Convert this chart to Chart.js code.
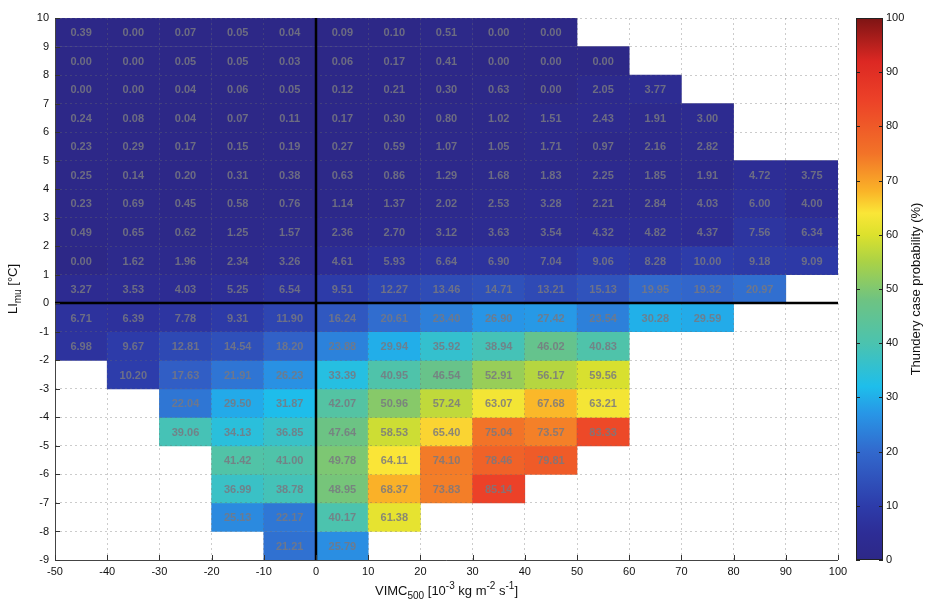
<!DOCTYPE html>
<html>
<head>
<meta charset="utf-8">
<script src="https://cdn.jsdelivr.net/npm/chart.js@4.4.1/dist/chart.umd.min.js"></script>
<style>
	html, body { margin: 0; padding: 0; background: #fff; }
	#wrap { width: 931px; height: 603px; }
</style>
</head>
<body>
<div id="wrap"><canvas id="myChart"></canvas></div>
<script>
	//VIMC500 bin lower edges (columns)
	var vimcBins = [-50, -40, -30, -20, -10, 0, 10, 20, 30, 40, 50, 60, 70, 80, 90];
	var vimcStep = 10;
	//LImu bin lower edges (rows, top to bottom)
	var liBins = [9, 8, 7, 6, 5, 4, 3, 2, 1, 0, -1, -2, -3, -4, -5, -6, -7, -8, -9];
	//colorbar ticks
	var cbTicks = [0, 10, 20, 30, 40, 50, 60, 70, 80, 90, 100];

	//thundery case probability (%) per row
	var li9  = [0.39, 0.00, 0.07, 0.05, 0.04, 0.09, 0.10, 0.51, 0.00, 0.00, null, null, null, null, null];
	var li8  = [0.00, 0.00, 0.05, 0.05, 0.03, 0.06, 0.17, 0.41, 0.00, 0.00, 0.00, null, null, null, null];
	var li7  = [0.00, 0.00, 0.04, 0.06, 0.05, 0.12, 0.21, 0.30, 0.63, 0.00, 2.05, 3.77, null, null, null];
	var li6  = [0.24, 0.08, 0.04, 0.07, 0.11, 0.17, 0.30, 0.80, 1.02, 1.51, 2.43, 1.91, 3.00, null, null];
	var li5  = [0.23, 0.29, 0.17, 0.15, 0.19, 0.27, 0.59, 1.07, 1.05, 1.71, 0.97, 2.16, 2.82, null, null];
	var li4  = [0.25, 0.14, 0.20, 0.31, 0.38, 0.63, 0.86, 1.29, 1.68, 1.83, 2.25, 1.85, 1.91, 4.72, 3.75];
	var li3  = [0.23, 0.69, 0.45, 0.58, 0.76, 1.14, 1.37, 2.02, 2.53, 3.28, 2.21, 2.84, 4.03, 6.00, 4.00];
	var li2  = [0.49, 0.65, 0.62, 1.25, 1.57, 2.36, 2.70, 3.12, 3.63, 3.54, 4.32, 4.82, 4.37, 7.56, 6.34];
	var li1  = [0.00, 1.62, 1.96, 2.34, 3.26, 4.61, 5.93, 6.64, 6.90, 7.04, 9.06, 8.28, 10.00, 9.18, 9.09];
	var li0  = [3.27, 3.53, 4.03, 5.25, 6.54, 9.51, 12.27, 13.46, 14.71, 13.21, 15.13, 19.95, 19.32, 20.97, null];
	var liM1 = [6.71, 6.39, 7.78, 9.31, 11.90, 16.24, 20.61, 23.40, 26.90, 27.42, 23.54, 30.28, 29.59, null, null];
	var liM2 = [6.98, 9.67, 12.81, 14.54, 18.20, 23.88, 29.94, 35.92, 38.94, 46.02, 40.83, null, null, null, null];
	var liM3 = [null, 10.20, 17.63, 21.91, 26.23, 33.39, 40.95, 46.54, 52.91, 56.17, 59.56, null, null, null, null];
	var liM4 = [null, null, 22.04, 29.50, 31.87, 42.07, 50.96, 57.24, 63.07, 67.68, 63.21, null, null, null, null];
	var liM5 = [null, null, 39.06, 34.13, 36.85, 47.64, 58.53, 65.40, 75.04, 73.57, 83.33, null, null, null, null];
	var liM6 = [null, null, null, 41.42, 41.00, 49.78, 64.11, 74.10, 78.46, 79.81, null, null, null, null, null];
	var liM7 = [null, null, null, 36.99, 38.78, 48.95, 68.37, 73.83, 85.14, null, null, null, null, null, null];
	var liM8 = [null, null, null, 25.13, 22.17, 40.17, 61.38, null, null, null, null, null, null, null, null];
	var liM9 = [null, null, null, null, 21.21, 25.79, null, null, null, null, null, null, null, null, null];

	var liRows = [li9, li8, li7, li6, li5, li4, li3, li2, li1, li0, liM1, liM2, liM3, liM4, liM5, liM6, liM7, liM8, liM9];

	//colormap stops (value, r, g, b)
	var cmap = [
		[0, 45, 40, 135], [5, 45, 45, 150], [10, 45, 60, 170], [20, 50, 105, 205],
		[27, 40, 150, 230], [32, 30, 190, 235], [40, 75, 195, 175], [48, 110, 195, 130],
		[55, 170, 210, 70], [60, 220, 225, 45], [64, 250, 230, 55], [68, 250, 180, 40],
		[75, 242, 115, 40], [85, 236, 65, 40], [92, 220, 40, 35], [100, 125, 20, 20]
	];

	function colorFor(v) {
		for (var i = 1; i < cmap.length; i++) {
			if (v <= cmap[i][0]) {
				var a = cmap[i - 1], b = cmap[i];
				var t = (v - a[0]) / (b[0] - a[0]);
				return 'rgb(' + Math.round(a[1] + (b[1] - a[1]) * t) + ',' +
					Math.round(a[2] + (b[2] - a[2]) * t) + ',' +
					Math.round(a[3] + (b[3] - a[3]) * t) + ')';
			}
		}
		var l = cmap[cmap.length - 1];
		return 'rgb(' + l[1] + ',' + l[2] + ',' + l[3] + ')';
	}

	//one bar dataset per LI row, floating bars across VIMC bins
	var datasets = [];
	for (var r = 0; r < liBins.length; r++) {
		var pts = [];
		var cols = [];
		for (var c = 0; c < vimcBins.length; c++) {
			var v = liRows[r][c];
			if (v === null) continue;
			pts.push({ x: [vimcBins[c], vimcBins[c] + vimcStep], y: liBins[r] + 0.5, v: v });
			cols.push(colorFor(v));
		}
		datasets.push({
			data: pts,
			backgroundColor: cols,
			borderWidth: 0,
			borderSkipped: false,
			grouped: false,
			barPercentage: 1,
			categoryPercentage: 1
		});
	}

	//draw text with sub/superscripts, centred at (cx, cy)
	function richText(ctx, parts, cx, cy, size) {
		var small = Math.round(size * 0.75);
		var w = 0;
		parts.forEach(function(p) {
			ctx.font = (p[1] === 'n' ? size : small) + 'px "Liberation Sans", Arial, sans-serif';
			p.w = ctx.measureText(p[0]).width;
			w += p.w;
		});
		var x = cx - w / 2;
		ctx.textAlign = 'left';
		ctx.textBaseline = 'middle';
		parts.forEach(function(p) {
			ctx.font = (p[1] === 'n' ? size : small) + 'px "Liberation Sans", Arial, sans-serif';
			var dy = p[1] === 'sub' ? size * 0.38 : (p[1] === 'sup' ? -size * 0.38 : 0);
			ctx.fillText(p[0], x, cy + dy);
			x += p.w;
		});
	}

	var heatPlugin = {
		id: 'heatPlugin',
		afterDatasetsDraw: function(chart) {
			var ctx = chart.ctx;
			ctx.save();
			ctx.font = 'bold 11px "Liberation Sans", Arial, sans-serif';
			ctx.textAlign = 'center';
			ctx.textBaseline = 'middle';
			ctx.fillStyle = 'rgba(120,120,128,0.85)';
			chart.data.datasets.forEach(function(ds, di) {
				var meta = chart.getDatasetMeta(di);
				meta.data.forEach(function(el, i) {
					var p = el.getCenterPoint();
					ctx.fillText(ds.data[i].v.toFixed(2), p.x, p.y + 1);
				});
			});
			ctx.restore();
		},
		afterDraw: function(chart) {
			var ctx = chart.ctx;
			var area = chart.chartArea;
			var xs = chart.scales.x, ys = chart.scales.y, cb = chart.scales.cb;
			ctx.save();

			//axis lines left and bottom
			ctx.strokeStyle = '#444';
			ctx.lineWidth = 1;
			ctx.beginPath();
			ctx.moveTo(Math.round(area.left) + 0.5, area.top);
			ctx.lineTo(Math.round(area.left) + 0.5, Math.round(area.bottom) + 0.5);
			ctx.lineTo(area.right, Math.round(area.bottom) + 0.5);
			ctx.stroke();

			//zero lines
			ctx.strokeStyle = '#000';
			ctx.lineWidth = 2.5;
			ctx.beginPath();
			var x0 = Math.round(xs.getPixelForValue(0));
			ctx.moveTo(x0, area.top);
			ctx.lineTo(x0, area.bottom);
			var y0 = Math.round(ys.getPixelForValue(0));
			ctx.moveTo(area.left, y0);
			ctx.lineTo(area.right, y0);
			ctx.stroke();

			//inner tick marks
			ctx.lineWidth = 1;
			ctx.strokeStyle = '#333';
			ctx.beginPath();
			ys.ticks.forEach(function(t) {
				var py = Math.round(ys.getPixelForValue(t.value)) + 0.5;
				ctx.moveTo(area.left, py);
				ctx.lineTo(area.left + 5, py);
			});
			xs.ticks.forEach(function(t) {
				var px = Math.round(xs.getPixelForValue(t.value)) + 0.5;
				ctx.moveTo(px, area.bottom);
				ctx.lineTo(px, area.bottom - 5);
			});
			ctx.stroke();

			//colorbar
			var bx = area.right + 18, bw = 27;
			var top = cb.getPixelForValue(100), bot = cb.getPixelForValue(0);
			var grad = ctx.createLinearGradient(0, bot, 0, top);
			cmap.forEach(function(s) {
				grad.addColorStop(s[0] / 100, 'rgb(' + s[1] + ',' + s[2] + ',' + s[3] + ')');
			});
			ctx.fillStyle = grad;
			ctx.fillRect(bx, top, bw, bot - top);
			ctx.strokeStyle = '#222';
			ctx.strokeRect(bx + 0.5, top + 0.5, bw - 1, bot - top - 1);
			ctx.beginPath();
			cbTicks.forEach(function(t) {
				var py = Math.round(cb.getPixelForValue(t)) + 0.5;
				ctx.moveTo(bx, py); ctx.lineTo(bx + 4, py);
				ctx.moveTo(bx + bw - 4, py); ctx.lineTo(bx + bw, py);
			});
			ctx.stroke();

			//titles
			ctx.fillStyle = '#111';
			richText(ctx, [['VIMC', 'n'], ['500', 'sub'], [' [10', 'n'], ['-3', 'sup'], [' kg m', 'n'], ['-2', 'sup'], [' s', 'n'], ['-1', 'sup'], [']', 'n']],
				(area.left + area.right) / 2, 591, 13);

			ctx.save();
			ctx.translate(13, (area.top + area.bottom) / 2);
			ctx.rotate(-Math.PI / 2);
			richText(ctx, [['LI', 'n'], ['mu', 'sub'], [' [°C]', 'n']], 0, 0, 13);
			ctx.restore();

			ctx.save();
			ctx.translate(916, (area.top + area.bottom) / 2);
			ctx.rotate(-Math.PI / 2);
			richText(ctx, [['Thundery case probability (%)', 'n']], 0, 0, 13);
			ctx.restore();

			ctx.restore();
		}
	};

	var tickFont = { family: '"Liberation Sans", Arial, sans-serif', size: 11 };

	var ctx = document.getElementById('myChart').getContext('2d');
	var chart = new Chart(ctx, {
		type: 'bar',
		data: { datasets: datasets },
		options: {
			indexAxis: 'y',
			responsive: true,
			maintainAspectRatio: false,
			animation: false,
			layout: { padding: { top: 18, left: 0, right: 0, bottom: 0 } },
			plugins: { legend: { display: false }, tooltip: { enabled: false } },
			scales: {
				x: {
					type: 'linear',
					min: -50, max: 100,
					offset: false,
					grid: { color: 'rgba(110,110,110,0.35)', z: 1, drawTicks: false, offset: false },
					border: { display: false, dash: [2, 3] },
					ticks: { stepSize: 10, color: '#111', font: tickFont, padding: 5, maxRotation: 0 },
					afterFit: function(s) { s.height = 43; }
				},
				y: {
					type: 'linear',
					min: -9, max: 10,
					offset: false,
					grid: { color: 'rgba(110,110,110,0.35)', z: 1, drawTicks: false, offset: false },
					border: { display: false, dash: [2, 3] },
					ticks: { stepSize: 1, color: '#111', font: tickFont, padding: 6 },
					afterFit: function(s) { s.width = 55; }
				},
				cb: {
					type: 'linear',
					position: 'right',
					min: 0, max: 100,
					offset: false,
					grid: { display: false, drawTicks: true, tickLength: 46, offset: false },
					border: { display: false },
					ticks: { stepSize: 10, color: '#111', font: tickFont, padding: 2 },
					afterFit: function(s) { s.width = 93; }
				}
			}
		},
		plugins: [heatPlugin]
	});
</script>
</body>
</html>
